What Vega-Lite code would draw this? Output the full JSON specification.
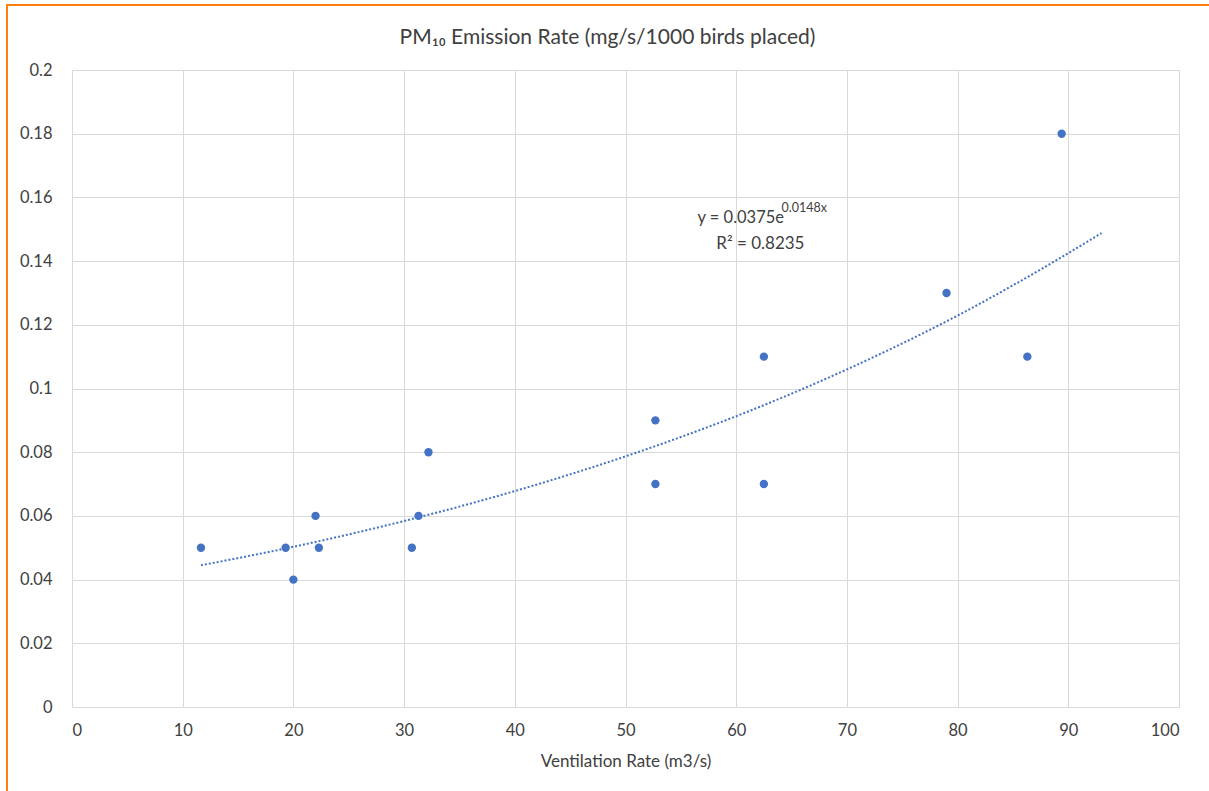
{
  "$schema": "https://vega.github.io/schema/vega-lite/v6.json",
  "autosize": {"type": "none"},
  "width": 1107,
  "height": 637,
  "padding": {"left": 72, "top": 70, "right": 30, "bottom": 84},
  "background": "white",
  "title": {
    "text": "PM₁₀ Emission Rate (mg/s/1000 birds placed)",
    "font": "Lato",
    "fontSize": 21,
    "fontWeight": "normal",
    "color": "#404040",
    "anchor": "middle",
    "frame": "group",
    "dx": -18,
    "offset": -44
  },
  "config": {
    "view": {"stroke": null},
    "font": "Lato",
    "axis": {
      "grid": true,
      "gridColor": "#d9d9d9",
      "gridWidth": 1,
      "domainColor": "#d9d9d9",
      "ticks": false,
      "labelFont": "Lato",
      "labelFontSize": 16.5,
      "labelColor": "#404040",
      "titleFont": "Lato",
      "titleFontSize": 17,
      "titleFontWeight": "normal",
      "titleColor": "#404040"
    }
  },
  "datasets": {
    "points": [
      {"vent": 11.65, "pm10": 0.05},
      {"vent": 19.3, "pm10": 0.05},
      {"vent": 20.0, "pm10": 0.04},
      {"vent": 22.0, "pm10": 0.06},
      {"vent": 22.3, "pm10": 0.05},
      {"vent": 30.7, "pm10": 0.05},
      {"vent": 31.3, "pm10": 0.06},
      {"vent": 32.2, "pm10": 0.08},
      {"vent": 52.7, "pm10": 0.09},
      {"vent": 52.7, "pm10": 0.07},
      {"vent": 62.5, "pm10": 0.11},
      {"vent": 62.5, "pm10": 0.07},
      {"vent": 79.0, "pm10": 0.13},
      {"vent": 86.3, "pm10": 0.11},
      {"vent": 89.4, "pm10": 0.18}
    ],
    "trend": [
      {"vent": 11.65, "pm10": 0.0445},
      {"vent": 20, "pm10": 0.0503},
      {"vent": 30, "pm10": 0.0584},
      {"vent": 40, "pm10": 0.0678},
      {"vent": 50, "pm10": 0.0787},
      {"vent": 60, "pm10": 0.0913},
      {"vent": 70, "pm10": 0.106},
      {"vent": 80, "pm10": 0.1229},
      {"vent": 90, "pm10": 0.1425},
      {"vent": 93, "pm10": 0.1488}
    ]
  },
  "layer": [
    {
      "data": {"name": "trend"},
      "mark": {"type": "line", "color": "#4472C4", "strokeWidth": 2, "strokeDash": [2, 2], "interpolate": "monotone"},
      "encoding": {
        "x": {
          "field": "vent", "type": "quantitative",
          "scale": {"domain": [0, 100], "nice": false, "zero": true},
          "axis": {"values": [0,10,20,30,40,50,60,70,80,90,100], "title": "Ventilation Rate (m3/s)", "labelPadding": 15, "titlePadding": 15}
        },
        "y": {
          "field": "pm10", "type": "quantitative",
          "scale": {"domain": [0, 0.2], "nice": false},
          "axis": {"values": [0,0.02,0.04,0.06,0.08,0.1,0.12,0.14,0.16,0.18,0.2], "format": "~g", "title": null, "labelPadding": 20}
        }
      }
    },
    {
      "data": {"name": "points"},
      "mark": {"type": "point", "filled": true, "size": 70, "opacity": 1, "color": "#4472C4"},
      "encoding": {
        "x": {"field": "vent", "type": "quantitative"},
        "y": {"field": "pm10", "type": "quantitative"}
      }
    },
    {
      "data": {"values": [{}]},
      "mark": {"type": "text", "text": "y = 0.0375e", "align": "left", "baseline": "alphabetic", "fontSize": 16.5, "color": "#404040", "font": "Lato"},
      "encoding": {"x": {"datum": 56.5}, "y": {"datum": 0.152}}
    },
    {
      "data": {"values": [{}]},
      "mark": {"type": "text", "text": "0.0148x", "align": "left", "baseline": "alphabetic", "fontSize": 12.5, "color": "#404040", "font": "Lato"},
      "encoding": {"x": {"datum": 64.1}, "y": {"datum": 0.1553}}
    },
    {
      "data": {"values": [{}]},
      "mark": {"type": "text", "text": "R² = 0.8235", "align": "left", "baseline": "alphabetic", "fontSize": 17, "color": "#404040", "font": "Lato"},
      "encoding": {"x": {"datum": 58.2}, "y": {"datum": 0.1438}}
    },
    {
      "data": {"values": [{}]},
      "mark": {"type": "rect", "fill": null, "stroke": "#FF7F0E", "strokeWidth": 2, "clip": false},
      "encoding": {
        "x": {"datum": -5.87}, "x2": {"datum": 106},
        "y": {"datum": 0.2204}, "y2": {"datum": -0.04}
      }
    }
  ]
}
